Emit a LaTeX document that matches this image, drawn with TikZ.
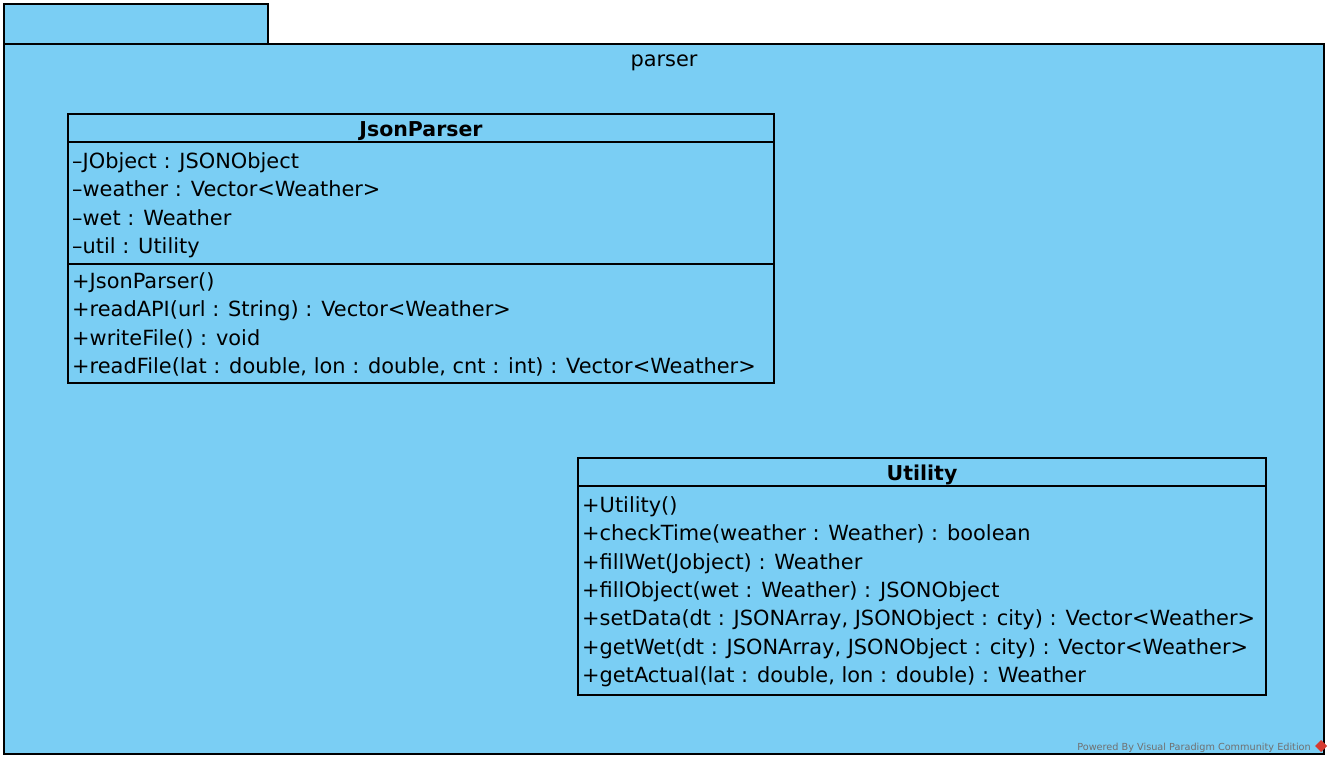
\documentclass[tikz,border=0pt]{standalone}
\usepackage{fontspec}
\setmainfont{DejaVu Sans}
\usetikzlibrary{positioning}

\definecolor{pkgblue}{RGB}{122,206,244}
\definecolor{wmgrey}{RGB}{112,112,112}
\definecolor{wmred}{RGB}{214,58,48}

\begin{document}
\begin{tikzpicture}[x=1pt, y=-1pt, node distance=0pt,
	box/.style={draw, line width=1.4pt, fill=pkgblue},
	sep/.style={line width=1.4pt},
	member/.style={inner sep=0pt, text height=22pt, text depth=6pt, font=\fontsize{20.9}{24}\selectfont},
	title/.style={member, font=\fontsize{20.5}{24}\selectfont\bfseries},
	under/.style={below =of #1.south west, anchor=north west}]

\useasboundingbox (0,0) rectangle (1334,764);

	%% Package
	\draw[box] (4,4) rectangle (268,44);
	\draw[box] (4,44) rectangle (1324,754);
	\node[member] (pkg) at (664,58) {parser};

	%% JsonParser
	\draw[box] (68,114) rectangle (774,383);
	\draw[sep] (68,142) -- (774,142);
	\draw[sep] (68,264) -- (774,264);
	\node[title] (jp_name) at (421,128) {JsonParser};

	\node[member, anchor=north west] (jp_a1) at (72,146) {–JObject : JSONObject};
	\node[member, under=jp_a1] (jp_a2) {–weather : Vector<Weather>};
	\node[member, under=jp_a2] (jp_a3) {–wet : Weather};
	\node[member, under=jp_a3] (jp_a4) {–util : Utility};

	\node[member, anchor=north west] (jp_m1) at (72,266) {+JsonParser()};
	\node[member, under=jp_m1] (jp_m2) {+readAPI(url : String) : Vector<Weather>};
	\node[member, under=jp_m2] (jp_m3) {+writeFile() : void};
	\node[member, under=jp_m3] (jp_m4) {+readFile(lat : double, lon : double, cnt : int) : Vector<Weather>};

	%% Utility
	\draw[box] (578,458) rectangle (1266,695);
	\draw[sep] (578,486) -- (1266,486);
	\node[title] (ut_name) at (922,472) {Utility};

	\node[member, anchor=north west] (ut_m1) at (582,490) {+Utility()};
	\node[member, under=ut_m1] (ut_m2) {+checkTime(weather : Weather) : boolean};
	\node[member, under=ut_m2] (ut_m3) {+fillWet(Jobject) : Weather};
	\node[member, under=ut_m3] (ut_m4) {+fillObject(wet : Weather) : JSONObject};
	\node[member, under=ut_m4] (ut_m5) {+setData(dt : JSONArray, JSONObject : city) : Vector<Weather>};
	\node[member, under=ut_m5] (ut_m6) {+getWet(dt : JSONArray, JSONObject : city) : Vector<Weather>};
	\node[member, under=ut_m6] (ut_m7) {+getActual(lat : double, lon : double) : Weather};

	%% Watermark
	\node[anchor=base east, inner sep=0pt, text=wmgrey, font=\fontsize{9.7}{11}\selectfont] (wm) at (1311,750) {Powered By Visual Paradigm Community Edition};
	\fill[wmred] (1321,740) -- (1327,746) -- (1321,752) -- (1315,746) -- cycle;

\end{tikzpicture}
\end{document}
